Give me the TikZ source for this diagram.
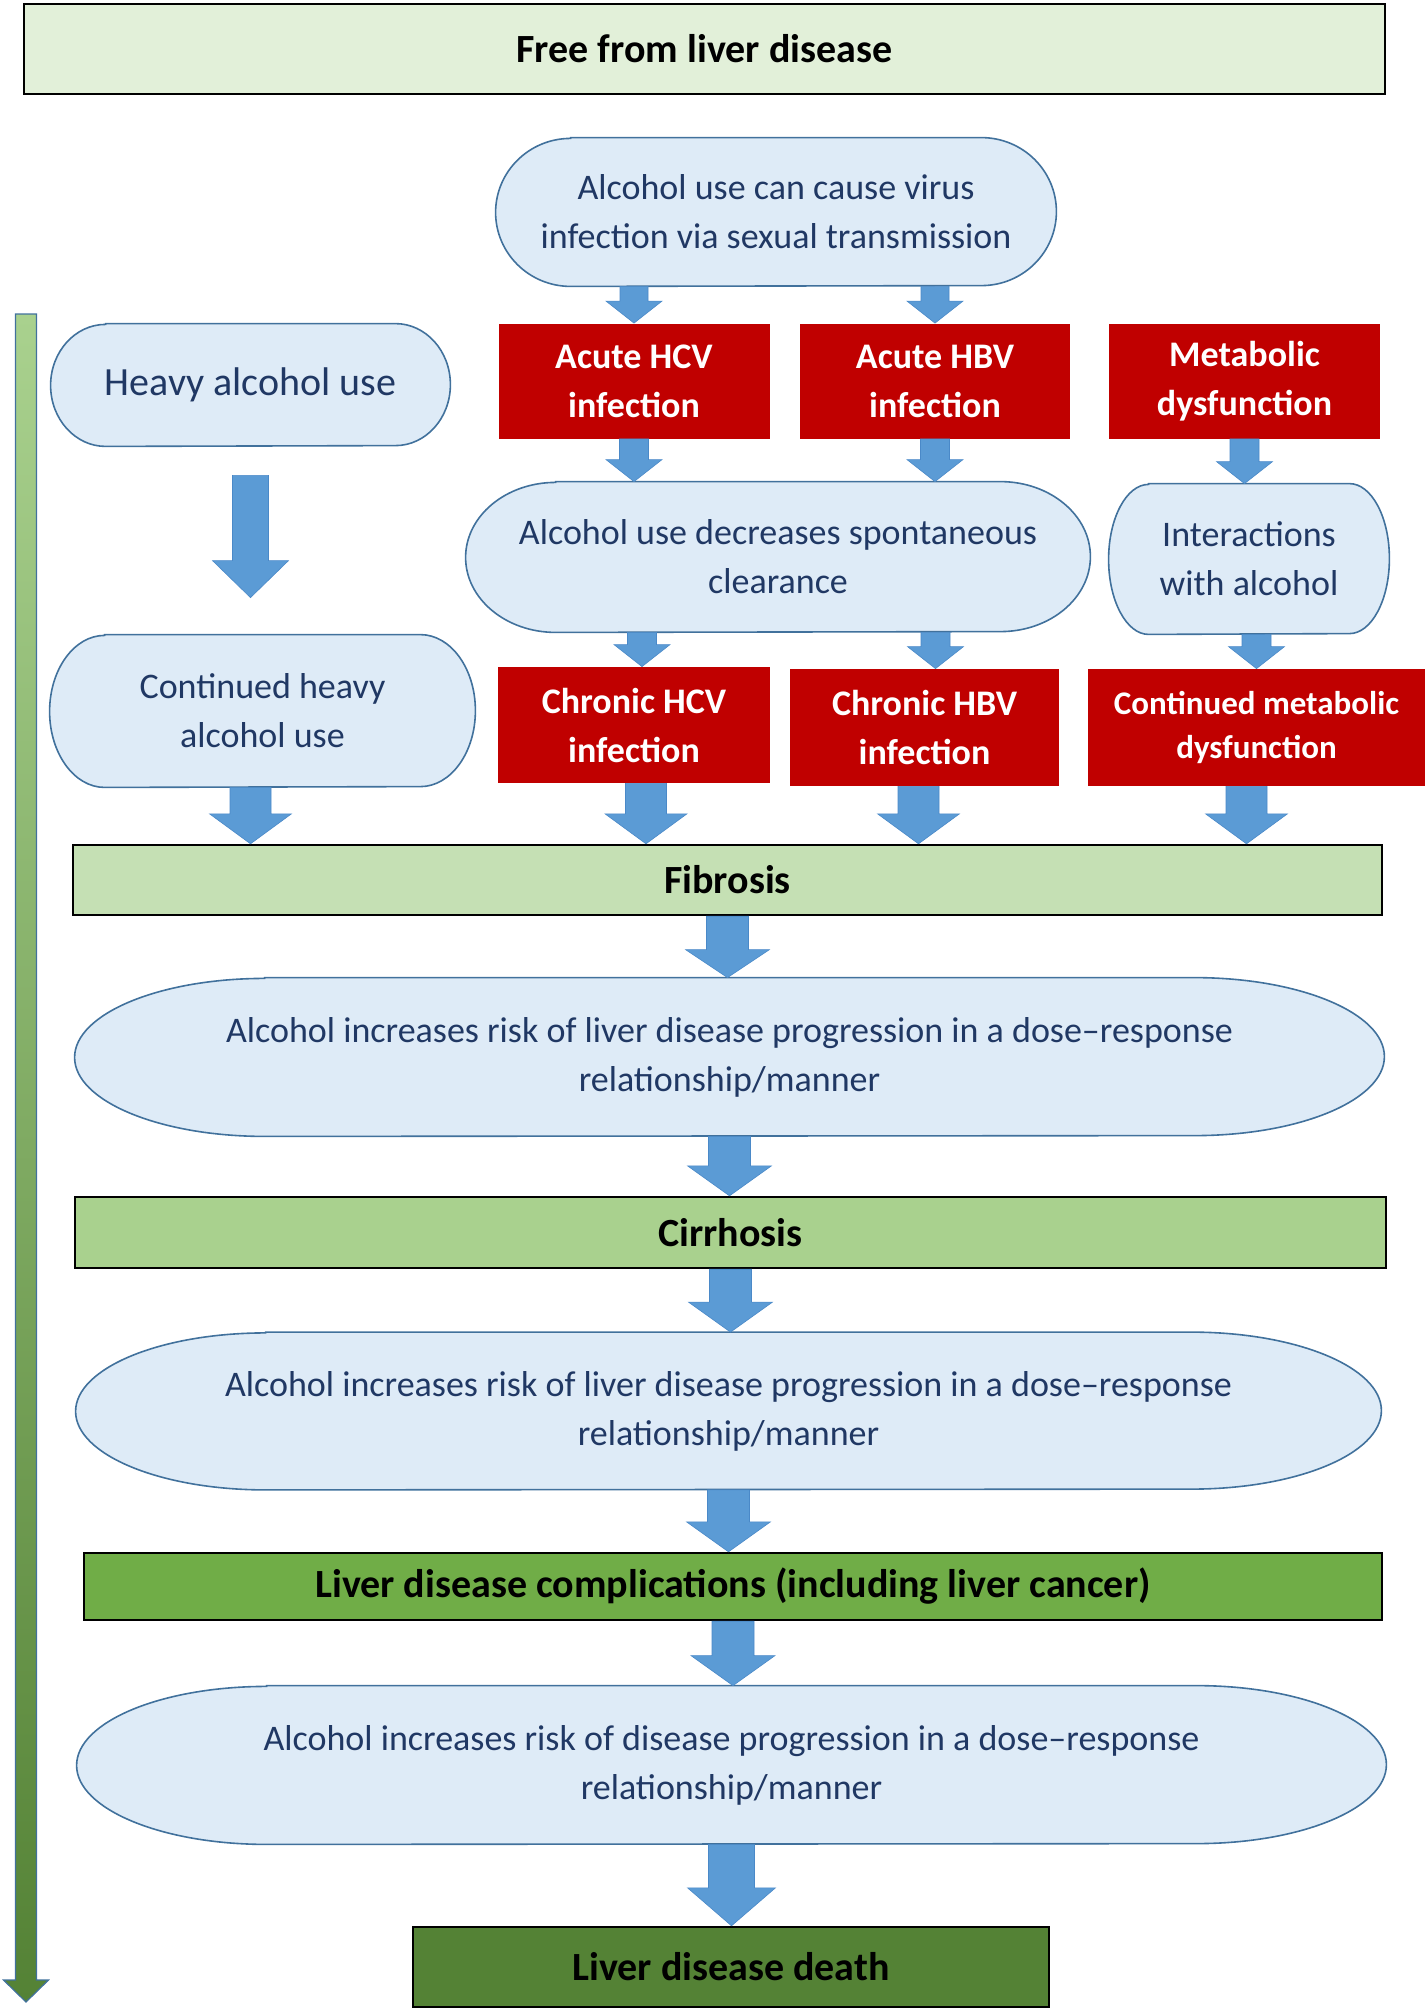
\documentclass[tikz,border=0pt]{standalone}
\usepackage{fontspec}
\setmainfont{Carlito}
\usetikzlibrary{calc,backgrounds}
\definecolor{ellfill}{HTML}{DEEBF7}
\definecolor{elldraw}{HTML}{41719C}
\definecolor{elltext}{HTML}{203864}
\definecolor{redbox}{HTML}{C00000}
\definecolor{arrowfill}{HTML}{5B9BD5}
\definecolor{arrowdraw}{HTML}{4A89C8}
\definecolor{gzero}{HTML}{E2F0D9}
\definecolor{gone}{HTML}{C5E0B4}
\definecolor{gtwo}{HTML}{A9D18E}
\definecolor{gthree}{HTML}{70AD47}
\definecolor{gfour}{HTML}{548235}
\tikzset{
 every node/.style={inner sep=0pt, align=center},
 sz/.style 2 args={minimum width=#1*0.5pt, minimum height=#2*0.5pt},
 elltxt/.style={font=\fontsize{18}{24.5}\selectfont, text=elltext},
 redbx/.style={fill=redbox, text=white, font=\fontsize{18}{24.5}\selectfont\bfseries},
 greenbx/.style={draw=black, line width=1.2pt, text=black, font=\fontsize{20}{24.5}\selectfont\bfseries},
 termshape/.style={fill=ellfill, draw=elldraw, line width=0.8pt},
 blockarrow/.style={fill=arrowfill, draw=arrowdraw, line width=0.3pt},
 timearrow/.style={top color=gtwo, bottom color=gfour, draw=elldraw, line width=0.6pt},
}
\newcommand\drawterm[3]{%
 \path[termshape] ($(#1.north west)+(#2,0)$) -- ($(#1.north east)+(-#2,0)$)
  arc[start angle=90,end angle=-90,x radius=#2*0.5pt,y radius=#3*0.5pt]
  -- ($(#1.south west)+(#2,0)$)
  arc[start angle=270,end angle=90,x radius=#2*0.5pt,y radius=#3*0.5pt] -- cycle;}
\newcommand\barrow[6][blockarrow]{%
 \path[#1] let \p1=#2, \p2=#3 in
 (\x1-#4*0.25pt,\y1) -- (\x1+#4*0.25pt,\y1) -- (\x1+#4*0.25pt,\y2+#6*0.5pt)
 -- (\x1+#5*0.25pt,\y2+#6*0.5pt) -- (\x1,\y2) -- (\x1-#5*0.25pt,\y2+#6*0.5pt)
 -- (\x1-#4*0.25pt,\y2+#6*0.5pt) -- cycle;}
\begin{document}
\begin{tikzpicture}[x=0.5pt,y=-0.5pt]
\useasboundingbox (0,0) rectangle (1425,2009);
% nodes
\node[greenbx, fill=gzero, sz={1361}{90}] (free) at (704.5,49) {Free from liver disease};
\node[elltxt, sz={560}{148}] (virus) at (776,212) {Alcohol use can cause virus\\infection via sexual transmission};
\node[elltxt, sz={399}{122}, font=\fontsize{20}{24.5}\selectfont] (heavy) at (250.5,385) {Heavy alcohol use};
\node[redbx, sz={271}{115}] (ahcv) at (634,381) {Acute HCV\\infection};
\node[redbx, sz={270}{115}] (ahbv) at (935,381) {Acute HBV\\infection};
\node[redbx, sz={271}{115}] (metab) at (1244.5,381) {Metabolic\\dysfunction};
\node[elltxt, sz={624}{150}] (decr) at (778,557) {Alcohol use decreases spontaneous\\clearance};
\node[elltxt, sz={280}{150}] (inter) at (1249,559) {Interactions\\with alcohol};
\node[elltxt, sz={425}{152}] (cheavy) at (262.5,711) {Continued heavy\\alcohol use};
\node[redbx, sz={272}{116}] (chcv) at (634,725) {Chronic HCV\\infection};
\node[redbx, sz={269}{117}] (chbv) at (924.5,727.5) {Chronic HBV\\infection};
\node[redbx, sz={337}{117}, font=\fontsize{16.5}{22}\selectfont\bfseries] (cmet) at (1256.5,727.5) {Continued metabolic\\dysfunction};
\node[greenbx, fill=gone, sz={1309}{70}] (fib) at (727.5,880) {Fibrosis};
\node[elltxt, sz={1309}{158}] (ea) at (729.5,1057) {Alcohol increases risk of liver disease progression in a dose–response\\relationship/manner};
\node[greenbx, fill=gtwo, sz={1311}{71}] (cirr) at (730.5,1232.5) {Cirrhosis};
\node[elltxt, sz={1305}{157}] (eb) at (728.5,1411) {Alcohol increases risk of liver disease progression in a dose–response\\relationship/manner};
\node[greenbx, fill=gthree, sz={1298}{67}] (comp) at (733,1586.5) {Liver disease complications (including liver cancer)};
\node[elltxt, sz={1309}{158}] (ec) at (731.5,1765) {Alcohol increases risk of disease progression in a dose–response\\relationship/manner};
\node[greenbx, fill=gfour, sz={636}{80}] (death) at (731,1967) {Liver disease death};
% rounded shapes behind the texts
\begin{scope}[on background layer]
\drawterm{virus}{75}{74}
\drawterm{heavy}{55}{61}
\drawterm{decr}{90}{75}
\drawterm{inter}{40}{75}
\drawterm{cheavy}{55}{76}
\drawterm{ea}{190}{79}
\drawterm{eb}{190}{78.5}
\drawterm{ec}{190}{79}
\end{scope}
% time arrow
\coordinate (gtop) at (26,314);
\coordinate (gbot) at (26,2002);
\barrow[timearrow]{(gtop)}{(gbot)}{21}{45}{22}
% block arrows
\barrow{(ahcv.north |- virus.south)}{(ahcv.north)}{28}{56}{22}
\barrow{(ahbv.north |- virus.south)}{(ahbv.north)}{28}{56}{22}
\barrow{(ahcv.south)}{(ahcv.south |- decr.north)}{29}{56}{22}
\barrow{(ahbv.south)}{(ahbv.south |- decr.north)}{29}{56}{22}
\barrow{(metab.south)}{(metab.south |- inter.north)}{29}{56}{22}
\barrow{($(chcv.north |- decr.south)+(8,0)$)}{($(chcv.north)+(8,0)$)}{29}{56}{22}
\barrow{($(chbv.north |- decr.south)+(11,0)$)}{($(chbv.north)+(11,0)$)}{29}{56}{22}
\barrow{(cmet.north |- inter.south)}{(cmet.north)}{29}{56}{22}
\barrow{($(heavy.south)+(0,29)$)}{($(heavy.south |- cheavy.north)+(0,-37)$)}{36}{76}{37}
\barrow{(heavy.south |- cheavy.south)}{(heavy.south |- fib.north)}{41}{82}{30}
\barrow{($(chcv.south)+(12,0)$)}{($(chcv.south |- fib.north)+(12,0)$)}{41}{82}{30}
\barrow{($(chbv.south)+(-6,0)$)}{($(chbv.south |- fib.north)+(-6,0)$)}{41}{82}{30}
\barrow{($(cmet.south)+(-10,0)$)}{($(cmet.south |- fib.north)+(-10,0)$)}{41}{82}{30}
\barrow{(fib.south)}{(fib.south |- ea.north)}{42}{84}{28}
\barrow{(ea.south)}{(ea.south |- cirr.north)}{42}{84}{30}
\barrow{(cirr.south)}{(cirr.south |- eb.north)}{42}{84}{30}
\barrow{(eb.south)}{(eb.south |- comp.north)}{42}{84}{30}
\barrow{(comp.south)}{(comp.south |- ec.north)}{42}{84}{30}
\barrow{(ec.south)}{(ec.south |- death.north)}{46}{88}{38}
\end{tikzpicture}
\end{document}
